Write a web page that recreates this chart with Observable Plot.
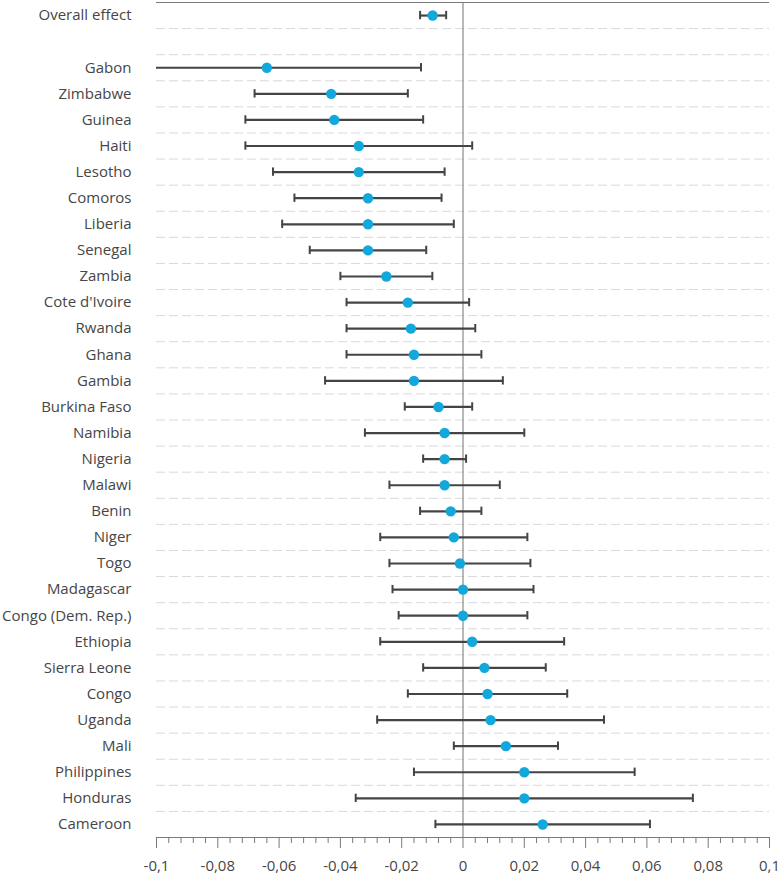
<!DOCTYPE html>
<html>
<head>
<meta charset="utf-8">
<script src="https://cdn.jsdelivr.net/npm/d3@7"></script>
<script src="https://cdn.jsdelivr.net/npm/@observablehq/plot@0.6"></script>
<style>
  html, body { margin: 0; padding: 0; background: #fff; }
  #chart svg { display: block; }
</style>
</head>
<body>
<div id="chart"></div>
<script>
// ---- Data ----
const overallLabel = "Overall effect";
const overallEstimate = -0.0099;
const overallLower = -0.014;
const overallUpper = -0.0055;

const countries = [
  "Gabon", "Zimbabwe", "Guinea", "Haiti", "Lesotho", "Comoros", "Liberia",
  "Senegal", "Zambia", "Cote d'Ivoire", "Rwanda", "Ghana", "Gambia",
  "Burkina Faso", "Namibia", "Nigeria", "Malawi", "Benin", "Niger", "Togo",
  "Madagascar", "Congo (Dem. Rep.)", "Ethiopia", "Sierra Leone", "Congo",
  "Uganda", "Mali", "Philippines", "Honduras", "Cameroon"
];
const estimates = [
  -0.064, -0.043, -0.042, -0.034, -0.034, -0.031, -0.031,
  -0.031, -0.025, -0.018, -0.017, -0.016, -0.016,
  -0.008, -0.006, -0.006, -0.006, -0.004, -0.003, -0.001,
  0.000, 0.000, 0.003, 0.007, 0.008,
  0.009, 0.014, 0.020, 0.020, 0.026
];
const lowerBounds = [
  -0.115, -0.068, -0.071, -0.071, -0.062, -0.055, -0.059,
  -0.050, -0.040, -0.038, -0.038, -0.038, -0.045,
  -0.019, -0.032, -0.013, -0.024, -0.014, -0.027, -0.024,
  -0.023, -0.021, -0.027, -0.013, -0.018,
  -0.028, -0.003, -0.016, -0.035, -0.009
];
const upperBounds = [
  -0.0137, -0.018, -0.013, 0.003, -0.006, -0.007, -0.003,
  -0.012, -0.010, 0.002, 0.004, 0.006, 0.013,
  0.003, 0.020, 0.001, 0.012, 0.006, 0.021, 0.022,
  0.023, 0.021, 0.033, 0.027, 0.034,
  0.046, 0.031, 0.056, 0.075, 0.061
];
const xTicks = [-0.1, -0.08, -0.06, -0.04, -0.02, 0, 0.02, 0.04, 0.06, 0.08, 0.1];
const xMinorStep = 0.004;

// ---- Build rows (row 0 = overall, row 1 = blank, rows 2.. = countries) ----
const rows = [{i: 0, label: overallLabel, est: overallEstimate, lo: overallLower, hi: overallUpper}];
countries.forEach((c, k) => rows.push({i: k + 2, label: c, est: estimates[k], lo: lowerBounds[k], hi: upperBounds[k]}));
const nRows = countries.length + 2;
const rowLabels = Array.from({length: nRows}, (_, i) => (rows.find(r => r.i === i) || {label: ""}).label);
const gridPositions = d3.range(1, nRows).map(i => i - 0.5);
const minorTicks = d3.range(-0.1, 0.1 + 1e-9, xMinorStep).map(v => Math.round(v * 1000) / 1000)
  .filter(v => !xTicks.some(t => Math.abs(t - v) < 1e-9));

const fmt = d => String(d).replace(".", ",");
const lineColor = "#444";
const dotColor = "#13a8dc";
const textColor = "#464646";

const chart = Plot.plot({
  width: 782,
  height: 874,
  marginLeft: 156,
  marginRight: 13,
  marginTop: 2,
  marginBottom: 37,
  style: {fontFamily: "'Open Sans', sans-serif", fontSize: "15px", color: textColor, background: "#fff"},
  x: {domain: [-0.1, 0.1]},
  y: {domain: [-0.5, nRows - 0.5], range: [2, 837]},
  marks: [
    Plot.ruleY(gridPositions, {x1: -0.1, x2: 0.1, stroke: "#d9d9d9", strokeDasharray: "9,4", strokeWidth: 1}),
    Plot.ruleX([0], {y1: -0.5, y2: nRows - 0.5, stroke: "#8a8a8a", strokeWidth: 1.2}),
    Plot.ruleY([-0.5, nRows - 0.5], {x1: -0.1, x2: 0.1, stroke: "#7a7a7a", strokeWidth: 1.2}),
    Plot.ruleY(rows, {y: "i", x1: "lo", x2: "hi", stroke: lineColor, strokeWidth: 2.2, clip: true}),
    Plot.ruleX(rows, {x: "lo", y1: d => d.i - 0.16, y2: d => d.i + 0.16, stroke: lineColor, strokeWidth: 2, clip: true}),
    Plot.ruleX(rows, {x: "hi", y1: d => d.i - 0.16, y2: d => d.i + 0.16, stroke: lineColor, strokeWidth: 2, clip: true}),
    Plot.dot(rows, {x: "est", y: "i", r: 5.2, fill: dotColor, stroke: "none"}),
    Plot.axisY({ticks: d3.range(nRows), tickFormat: i => rowLabels[i], tickSize: 0, tickPadding: 25, label: null, fontSize: 15, fill: textColor}),
    Plot.axisX({ticks: xTicks, tickFormat: fmt, tickSize: 11, tickPadding: 12, label: null, stroke: "#7a7a7a", fill: textColor, fontSize: 15}),
    Plot.axisX({ticks: minorTicks, tickFormat: () => "", tickSize: 6, label: null, stroke: "#7a7a7a"})
  ]
});
document.getElementById("chart").appendChild(chart);
</script>
</body>
</html>
